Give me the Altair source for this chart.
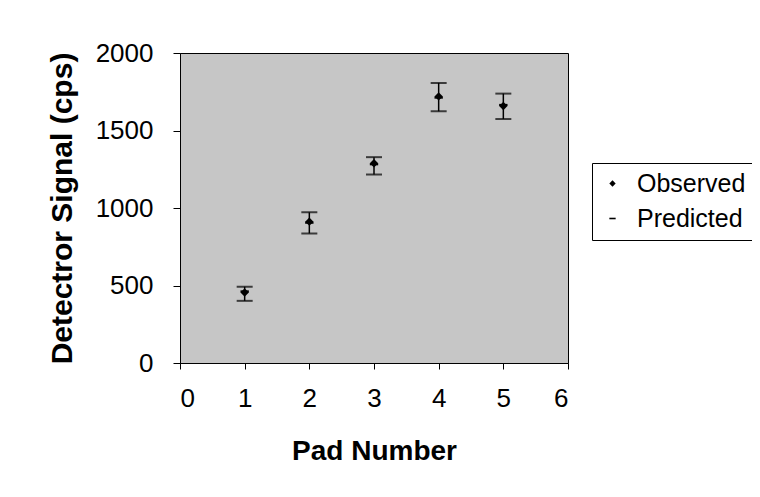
import altair as alt
import pandas as pd

pads = [1, 2, 3, 4, 5]
observed = [455, 912, 1289, 1720, 1658]
predicted = [462, 905, 1282, 1712, 1665]
err_low = [401, 836, 1216, 1624, 1574]
err_high = [492, 972, 1328, 1807, 1738]
series = ["Observed", "Predicted"]
x_ticks = [0, 1, 2, 3, 4, 5, 6]
y_ticks = [0, 500, 1000, 1500, 2000]

df = pd.DataFrame({"pad": pads, "obs": observed, "pred": predicted,
                   "lo": err_low, "hi": err_high})
pts = pd.DataFrame({
    "pad": pads + pads,
    "val": observed + predicted,
    "series": ["Observed"] * 5 + ["Predicted"] * 5,
})

FONT = "Liberation Sans"
xs = alt.Scale(domain=[0, 6], nice=False)
ys = alt.Scale(domain=[0, 2000], nice=False)

x = alt.X("pad:Q", scale=xs,
          axis=alt.Axis(values=x_ticks, title="Pad Number", grid=False, format="d",
                        labelFontSize=26, titleFontSize=28, titleFontWeight="bold",
                        tickSize=6, labelPadding=16, titlePadding=26,
                        domainColor="black", tickColor="black",
                        labelColor="black", titleColor="black"))
y = alt.Y("val:Q", scale=ys,
          axis=alt.Axis(values=y_ticks, title="Detectror Signal (cps)", grid=False, format="d",
                        labelFontSize=26, titleFontSize=30, titleFontWeight="bold",
                        tickSize=7, labelPadding=20, titlePadding=18,
                        domainColor="black", tickColor="black",
                        labelColor="black", titleColor="black"))

base = alt.Chart(df)
rule = base.mark_rule(color="black", strokeWidth=1.5).encode(
    x=alt.X("pad:Q", scale=xs), y=alt.Y("lo:Q", scale=ys), y2="hi:Q")
cap_lo = base.mark_tick(color="black", orient="horizontal", size=16, thickness=2).encode(
    x="pad:Q", y="lo:Q")
cap_hi = base.mark_tick(color="black", orient="horizontal", size=16, thickness=2).encode(
    x="pad:Q", y="hi:Q")

dash = "M-1,-0.25H1V0.25H-1Z"
points = alt.Chart(pts).mark_point(filled=True, opacity=1, size=70).encode(
    x=x, y=y,
    shape=alt.Shape("series:N", scale=alt.Scale(domain=series, range=["diamond", dash]),
                    legend=alt.Legend(title=None, orient="none", legendX=412, legendY=110,
                                      labelFontSize=25, labelFont=FONT, labelColor="black",
                                      symbolSize=40, symbolStrokeWidth=0,
                                      symbolFillColor="black",
                                      strokeColor="black", padding=8, rowPadding=9,
                                      labelOffset=12)),
    color=alt.value("black"),
)

chart = alt.layer(rule, cap_lo, cap_hi, points).properties(
    width=388, height=310,
    autosize=alt.AutoSizeParams(type="none"),
    padding={"left": 172, "top": 45, "right": 184, "bottom": 126},
    background="white",
).configure_view(
    fill="#c6c6c6", stroke="black", strokeWidth=1
).configure_axis(labelFont=FONT, titleFont=FONT)

chart.save("out.html", embed_options={"renderer": "svg", "actions": False})
